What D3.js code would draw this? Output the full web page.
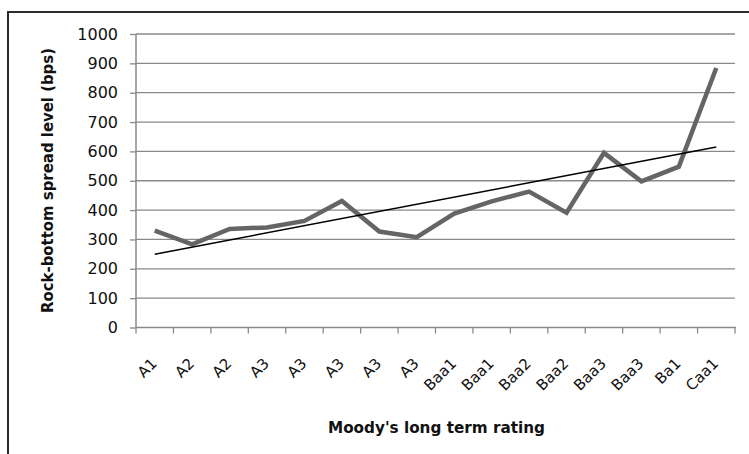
<!DOCTYPE html>
<html>
<head>
<meta charset="utf-8">
<script src="https://cdn.jsdelivr.net/npm/d3@7"></script>
<style>
  html, body { margin: 0; padding: 0; background: #fff; }
  svg { display: block; }
</style>
</head>
<body>
<svg id="chart" width="749" height="454"></svg>
<script>
const categories = ["A1","A2","A2","A3","A3","A3","A3","A3","Baa1","Baa1","Baa2","Baa2","Baa3","Baa3","Ba1","Caa1"];
const spreads = [330, 283, 336, 341, 363, 431, 327, 308, 388, 430, 463, 391, 595, 498, 548, 884];
const yTicks = [0,100,200,300,400,500,600,700,800,900,1000];
const yTitle = "Rock-bottom spread level (bps)";
const xTitle = "Moody's long term rating";

(function () {
const svg = d3.select("#chart");
const pLeft = 136, pRight = 735, pTop = 34, pBottom = 327.5;

// outer border (extends past the canvas at right and bottom)
svg.append("rect")
  .attr("x", 8).attr("y", 12).attr("width", 760).attr("height", 460)
  .attr("fill", "none").attr("stroke", "#2b2b2b").attr("stroke-width", 2);

const idx = categories.map((d, i) => i);
const x = d3.scaleBand().domain(idx).range([pLeft, pRight]).paddingInner(0).paddingOuter(0);
const y = d3.scaleLinear().domain([0, 1000]).range([pBottom, pTop]);

const gridColor = "#8a8a8a";

// gridlines
svg.append("g").selectAll("line").data(yTicks.filter(d => d > 0)).join("line")
  .attr("x1", pLeft).attr("x2", pRight)
  .attr("y1", d => y(d)).attr("y2", d => y(d))
  .attr("stroke", gridColor).attr("stroke-width", 1.3);

// y axis
const yAxis = svg.append("g").attr("transform", `translate(${pLeft},0)`)
  .call(d3.axisLeft(y).tickValues(yTicks).tickSize(6).tickPadding(12).tickFormat(d3.format("d")));
yAxis.select(".domain").attr("stroke", gridColor).attr("stroke-width", 1.5).attr("d", `M0,${pTop}V${pBottom}`);
yAxis.selectAll(".tick line").attr("stroke", gridColor).attr("stroke-width", 1.3);
yAxis.selectAll(".tick text")
  .attr("font-family", "DejaVu Sans").attr("font-size", 16).attr("fill", "#111");

// x axis line
svg.append("line").attr("x1", pLeft).attr("x2", pRight + 1).attr("y1", pBottom).attr("y2", pBottom)
  .attr("stroke", gridColor).attr("stroke-width", 1.5);
// x tick marks at band boundaries
const boundaries = idx.map(i => x(i)).concat([x(idx[idx.length - 1]) + x.bandwidth()]);
svg.append("g").selectAll("line").data(boundaries).join("line")
  .attr("x1", d => d).attr("x2", d => d)
  .attr("y1", pBottom).attr("y2", pBottom + 6)
  .attr("stroke", gridColor).attr("stroke-width", 1.3);

// x labels rotated
svg.append("g").selectAll("text").data(idx).join("text")
  .attr("transform", i => `translate(${x(i) + x.bandwidth() / 2 + 3},${pBottom + 37}) rotate(-45)`)
  .attr("text-anchor", "end")
  .attr("font-family", "DejaVu Sans").attr("font-size", 15).attr("fill", "#111")
  .text(i => categories[i]);

// data line
const cx = i => x(i) + x.bandwidth() / 2;
svg.append("path").datum(idx)
  .attr("d", d3.line().x(i => cx(i)).y(i => y(spreads[i])))
  .attr("fill", "none").attr("stroke", "#656565").attr("stroke-width", 4.5)
  .attr("stroke-linejoin", "miter");

// linear trendline (least squares over the data)
const n = spreads.length;
const xs = idx.map(i => i + 1);
const mx = d3.mean(xs), my = d3.mean(spreads);
const slope = d3.sum(xs.map((v, k) => (v - mx) * (spreads[k] - my))) / d3.sum(xs.map(v => (v - mx) ** 2));
const intercept = my - slope * mx;
svg.append("line")
  .attr("x1", cx(0)).attr("y1", y(intercept + slope * 1))
  .attr("x2", cx(n - 1)).attr("y2", y(intercept + slope * n))
  .attr("stroke", "#000").attr("stroke-width", 1.5);

// axis titles
svg.append("text")
  .attr("transform", `translate(53,180.5) rotate(-90)`)
  .attr("text-anchor", "middle")
  .attr("font-family", "DejaVu Sans").attr("font-weight", "bold").attr("font-size", 15)
  .attr("textLength", 265).attr("lengthAdjust", "spacingAndGlyphs")
  .attr("fill", "#111")
  .text(yTitle);

svg.append("text")
  .attr("x", 436.5).attr("y", 433)
  .attr("text-anchor", "middle")
  .attr("font-family", "DejaVu Sans").attr("font-weight", "bold").attr("font-size", 15)
  .attr("textLength", 217).attr("lengthAdjust", "spacingAndGlyphs")
  .attr("fill", "#111")
  .text(xTitle);
})();
</script>
</body>
</html>
